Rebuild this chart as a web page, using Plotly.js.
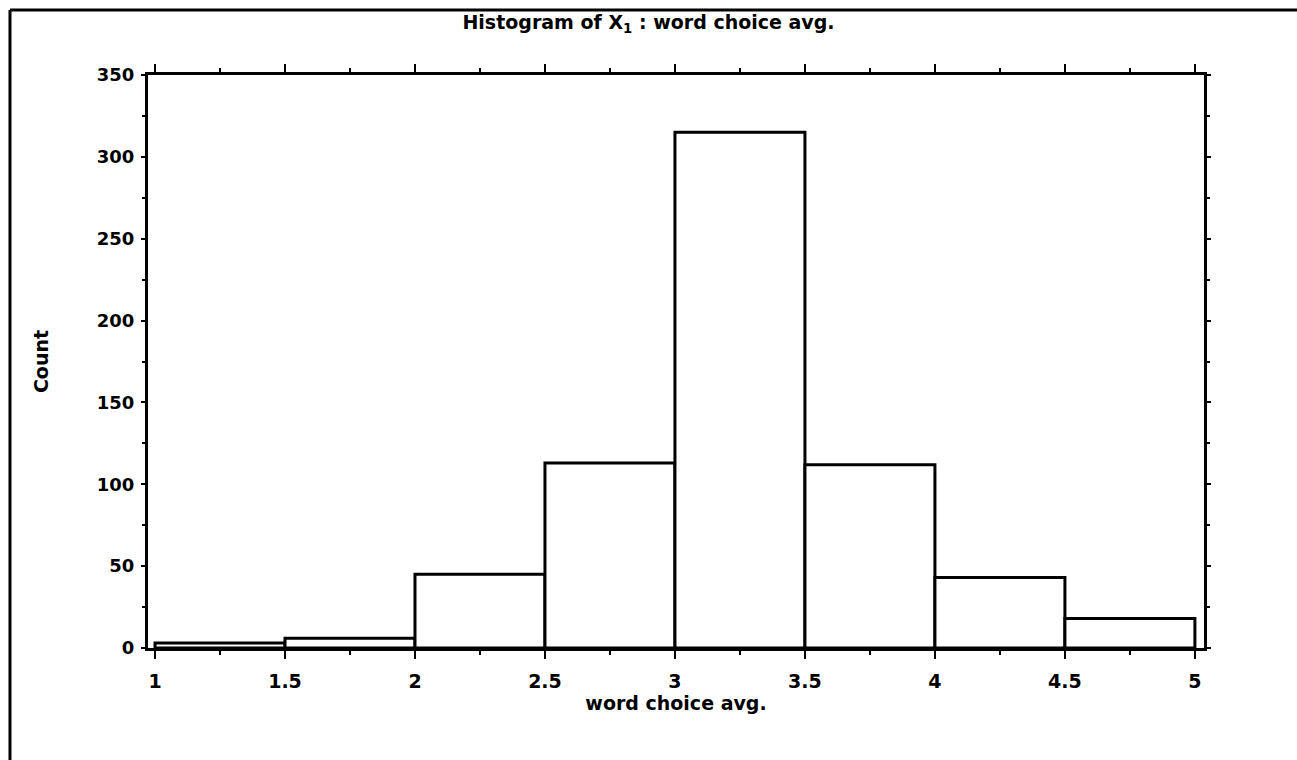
<!DOCTYPE html>
<html>
<head>
<meta charset="utf-8">
<script src="https://cdn.plot.ly/plotly-3.0.1.min.js"></script>
<style>
  html, body { margin: 0; padding: 0; background: #fff; }
  #chart { width: 1297px; height: 760px; }
</style>
</head>
<body>
<div id="chart"></div>
<script>
// Data
const binLeft = [1, 1.5, 2, 2.5, 3, 3.5, 4, 4.5];
const binWidth = 0.5;
const counts = [3, 6, 45, 113, 315, 112, 43, 18];
const xTickVals = [1, 1.5, 2, 2.5, 3, 3.5, 4, 4.5, 5];
const xTickText = ["1", "1.5", "2", "2.5", "3", "3.5", "4", "4.5", "5"];
const yTickVals = [0, 50, 100, 150, 200, 250, 300, 350];
const titleText = "Histogram of X<sub>1</sub> : word choice avg.";
const xTitle = "word choice avg.";
const yTitle = "Count";

const font = "DejaVu Sans, Arial, sans-serif";

const trace = {
  type: "bar",
  x: binLeft,
  y: counts,
  width: binLeft.map(() => binWidth),
  offset: 0,
  marker: { color: "#ffffff", line: { color: "#000000", width: 3 } },
  hoverinfo: "x+y"
};

const layout = {
  width: 1297,
  height: 760,
  paper_bgcolor: "#ffffff",
  plot_bgcolor: "#ffffff",
  margin: { l: 148, r: 93, t: 75, b: 112 },
  showlegend: false,
  title: {
    text: titleText,
    font: { family: font, size: 19, weight: "bold", color: "#000" },
    x: 0.5, xanchor: "center", y: 0.97, yanchor: "middle"
  },
  xaxis: {
    range: [0.973, 5.035],
    tickvals: xTickVals,
    ticktext: xTickText,
    ticks: "outside",
    ticklen: 8,
    tickwidth: 2,
    tickcolor: "#000",
    showline: true,
    linecolor: "#000",
    linewidth: 3,
    mirror: "allticks",
    showgrid: false,
    zeroline: false,
    ticklabelstandoff: 6,
    tickfont: { family: font, size: 19, weight: "bold", color: "#000" },
    minor: { dtick: 0.25, tick0: 1, ticks: "outside", ticklen: 4, tickwidth: 2, tickcolor: "#000", showgrid: false },
    title: { text: xTitle, font: { family: font, size: 19, weight: "bold", color: "#000" }, standoff: 5 }
  },
  yaxis: {
    range: [0, 350],
    tickvals: yTickVals,
    ticks: "outside",
    ticklen: 4,
    tickwidth: 2,
    tickcolor: "#000",
    showline: true,
    linecolor: "#000",
    linewidth: 3,
    mirror: "allticks",
    showgrid: false,
    zeroline: false,
    ticklabelstandoff: 3,
    tickfont: { family: font, size: 18, weight: "bold", color: "#000" },
    minor: { dtick: 25, tick0: 0, ticks: "outside", ticklen: 3, tickwidth: 2, tickcolor: "#000", showgrid: false },
    title: { text: yTitle, font: { family: font, size: 19, weight: "bold", color: "#000" }, standoff: 44 }
  },
  shapes: [
    { type: "line", xref: "paper", yref: "paper", x0: -0.1307, x1: 1.09, y0: 1.1134, y1: 1.1134, line: { color: "#000", width: 3 } },
    { type: "line", xref: "paper", yref: "paper", x0: -0.1307, x1: -0.1307, y0: 1.1134, y1: -0.2, line: { color: "#000", width: 3 } }
  ]
};

Plotly.newPlot("chart", [trace], layout, { displayModeBar: false, staticPlot: true });
</script>
</body>
</html>
